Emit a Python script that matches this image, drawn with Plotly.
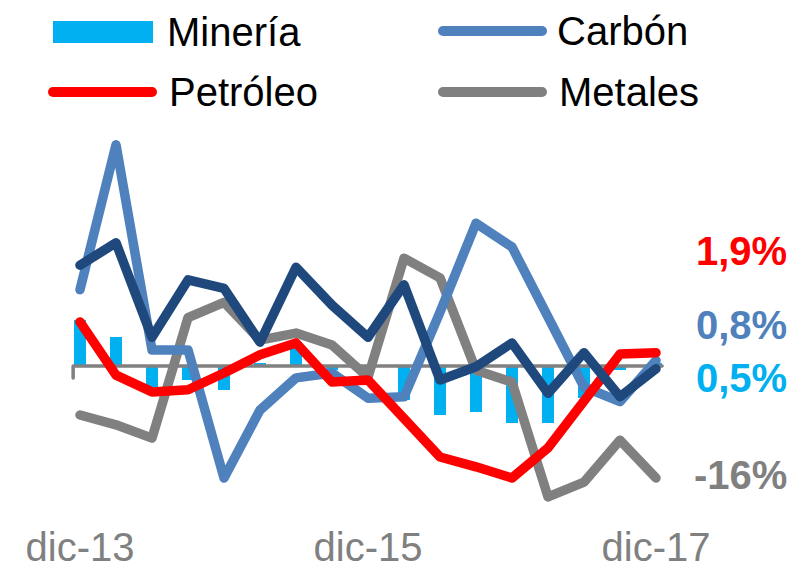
import plotly.graph_objects as go

# Quarterly periods, Dec-2013 to Dec-2017
periods = ["dic-13", "mar-14", "jun-14", "sep-14", "dic-14", "mar-15", "jun-15",
           "sep-15", "dic-15", "mar-16", "jun-16", "sep-16", "dic-16", "mar-17",
           "jun-17", "sep-17", "dic-17"]
tick_labels = ["dic-13", "dic-15", "dic-17"]

# Annual variation (%)
mineria = [6.6, 4.1, -3.0, -2.0, -3.4, 0.4, 3.4, -0.6, -0.8, -4.9, -7.0, -6.6,
           -8.1, -8.1, -4.6, -0.6, 0.5]
carbon = [10.9, 31.6, 2.3, 2.3, -16.0, -6.3, -1.7, -1.0, -4.6, -4.4, 7.7, 20.4,
          17.0, 7.0, -3.0, -5.1, 0.8]
petroleo = [6.3, -1.3, -3.7, -3.4, -1.0, 1.6, 3.3, -2.3, -2.0, -7.7, -13.0, -14.4,
            -16.0, -11.7, -4.9, 1.7, 1.9]
metales = [-7.0, -8.4, -10.3, 6.9, 9.1, 3.7, 4.7, 3.0, -1.6, 15.4, 12.6, -0.6,
           -2.3, -18.7, -16.6, -10.6, -16.0]
total = [14.4, 17.6, 4.1, 12.3, 11.1, 3.4, 14.1, 8.7, 4.1, 11.6, -2.0, -0.1,
         3.3, -3.9, 1.9, -4.4, -0.4]

C_MIN = "#00B0F0"
C_CAR = "#4F81BD"
C_PET = "#FF0000"
C_MET = "#808080"
C_TOT = "#1F497D"
FONT = "Liberation Sans, Arial, sans-serif"

W, H = 801, 573
L, R, T, B = 62, 674, 130, 510  # plot area in pixels


def px(x):
    return (x - L) / (R - L)


def py(y):
    return (B - y) / (B - T)


xs = list(range(len(periods)))
fig = go.Figure()

fig.add_trace(go.Bar(x=xs, y=mineria, name="Minería", marker_color=C_MIN,
                     marker_line_width=0, width=0.33))

# baseline of the value axis, drawn over the bars and under the lines
x_start, x_end = -0.19, len(periods) - 1 + 0.17
fig.add_trace(go.Scatter(x=[x_start, x_start, x_end], y=[-1.7, 0, 0], mode="lines",
                         line=dict(color="#808080", width=3.5), hoverinfo="skip"))

for ys, name, col in [(metales, "Metales", C_MET), (carbon, "Carbón", C_CAR),
                      (petroleo, "Petróleo", C_PET), (total, "Total", C_TOT)]:
    fig.add_trace(go.Scatter(x=xs, y=ys, name=name, mode="lines",
                             line=dict(color=col, width=9.5)))

# legend drawn as swatches + text
shapes = []
annotations = []
legend_items = [
    ("Minería", C_MIN, "bar", 53, 153, 32, 165),
    ("Carbón", C_CAR, "line", 443, 542, 31, 555),
    ("Petróleo", C_PET, "line", 53, 152, 92, 167),
    ("Metales", C_MET, "line", 443, 542, 92, 557),
]
for name, col, kind, x0, x1, yc, tx in legend_items:
    if kind == "bar":
        shapes.append(dict(type="rect", xref="paper", yref="paper",
                           x0=px(x0), x1=px(x1), y0=py(yc + 11), y1=py(yc - 11),
                           fillcolor=col, line_width=0))
    else:
        shapes.append(dict(type="line", xref="paper", yref="paper",
                           x0=px(x0), x1=px(x1), y0=py(yc), y1=py(yc),
                           line=dict(color=col, width=10)))
    annotations.append(dict(text=name, xref="paper", yref="paper", x=px(tx), y=py(yc),
                            xanchor="left", yanchor="middle", showarrow=False,
                            font=dict(family=FONT, size=40, color="black")))


def pct(v):
    s = f"{v:.0f}%" if abs(v) >= 10 else f"{v:.1f}%"
    return s.replace(".", ",")


# end-of-period values
for ys, col, yc in [(petroleo, C_PET, 251), (carbon, C_CAR, 325),
                    (mineria, C_MIN, 378), (metales, C_MET, 475)]:
    annotations.append(dict(text=f"<b>{pct(ys[-1])}</b>", xref="paper", yref="paper",
                            x=px(789), y=py(yc), xanchor="right", yanchor="middle",
                            showarrow=False, font=dict(family=FONT, size=40, color=col)))

fig.update_layout(
    width=W, height=H, margin=dict(l=L, r=W - R, t=T, b=H - B),
    paper_bgcolor="white", plot_bgcolor="white", showlegend=False,
    bargap=0, shapes=shapes, annotations=annotations,
    xaxis=dict(range=[-0.5, len(periods) - 0.5], showgrid=False, zeroline=False,
               showline=False, ticks="", ticklabelstandoff=10, automargin=False,
               tickvals=[periods.index(t) for t in tick_labels], ticktext=tick_labels,
               tickfont=dict(family=FONT, size=40, color="#808080")),
    yaxis=dict(range=[-(B - 366) / 7, (366 - T) / 7], showgrid=False, zeroline=False,
               showline=False, showticklabels=False, ticks="", automargin=False),
)

# rounded joins and caps on the series lines and legend swatches
round_joins = """
var gd = document.querySelector('.plotly-graph-div');
function roundLines() {
  gd.querySelectorAll('.scatterlayer .js-line, .shapelayer path').forEach(function (p) {
    p.style.strokeLinejoin = 'round';
    p.style.strokeLinecap = 'round';
  });
}
roundLines();
gd.on('plotly_afterplot', roundLines);
"""

fig.write_html("out.html", post_script=round_joins)
